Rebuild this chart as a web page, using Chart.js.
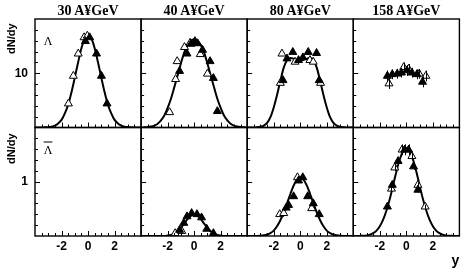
<!DOCTYPE html>
<html>
<head>
<meta charset="utf-8">
<script src="https://cdn.jsdelivr.net/npm/chart.js@4/dist/chart.umd.min.js"></script>
<style>
  body { margin:0; background:#fff; }
  #wrap { position:relative; width:465px; height:270px; }
  #wrap canvas { position:absolute; left:0; top:0; }
  .lbl { position:absolute; white-space:nowrap; color:#000; }
  .energy { font:bold 14px "Liberation Serif", serif; transform:translate(-50%,-50%); }
  .ytitle { font:bold 11px "Liberation Sans", Arial, sans-serif; transform-origin:0 0; transform:rotate(-90deg); }
  .part { font:12px "Liberation Serif", serif; transform:translate(-50%,-50%); }
</style>
</head>
<body>
<div id="wrap">
  <canvas id="spectra" width="465" height="270"></canvas>
</div>
<script>
// beam energies (columns)
const energies = ["30 A\u00a5GeV", "40 A\u00a5GeV", "80 A\u00a5GeV", "158 A\u00a5GeV"];
const xTicks = [-2, 0, 2];
const yTopTicks = [10];
const yBotTicks = [1];

// rapidity grid for the fit curves
const rapidity = [-4, -3.75, -3.5, -3.25, -3, -2.75, -2.5, -2.25, -2, -1.75, -1.5, -1.25, -1, -0.75, -0.5, -0.25, 0,
                  0.25, 0.5, 0.75, 1, 1.25, 1.5, 1.75, 2, 2.25, 2.5, 2.75, 3, 3.25, 3.5, 3.75, 4];

// Lambda fits
const fit30L  = [0, 0, 0.01, 0.03, 0.07, 0.16, 0.36, 0.75, 1.4, 2.6, 4.2, 6.5, 9.2, 12.0, 14.6, 16.4, 17.0,
                 16.4, 14.6, 12.0, 9.2, 6.5, 4.2, 2.6, 1.4, 0.75, 0.36, 0.16, 0.07, 0.03, 0.01, 0, 0];
const fit40L  = [0.01, 0.03, 0.08, 0.17, 0.35, 0.7, 1.3, 2.2, 3.6, 5.3, 7.4, 9.6, 11.8, 13.8, 15.2, 16.0, 16.2,
                 16.0, 15.2, 13.8, 11.8, 9.6, 7.4, 5.3, 3.6, 2.2, 1.3, 0.7, 0.35, 0.17, 0.08, 0.03, 0.01];
const fit80L  = [0, 0, 0.01, 0.04, 0.13, 0.35, 0.85, 1.9, 3.7, 6.0, 8.6, 11.0, 12.4, 12.8, 12.7, 12.5, 12.4,
                 12.5, 12.7, 12.8, 12.4, 11.0, 8.6, 6.0, 3.7, 1.9, 0.85, 0.35, 0.13, 0.04, 0.01, 0, 0];
// anti-Lambda fits
const fit40AL = [0, 0, 0, 0, 0, 0, 0, 0, 0.008, 0.02, 0.044, 0.086, 0.15, 0.23, 0.31, 0.37, 0.39,
                 0.37, 0.31, 0.23, 0.15, 0.086, 0.044, 0.02, 0.008, 0, 0, 0, 0, 0, 0, 0, 0];
const fit80AL = [0, 0, 0.001, 0.002, 0.005, 0.012, 0.027, 0.054, 0.10, 0.18, 0.29, 0.43, 0.60, 0.77, 0.93, 1.04, 1.08,
                 1.04, 0.93, 0.77, 0.60, 0.43, 0.29, 0.18, 0.10, 0.054, 0.027, 0.012, 0.005, 0.002, 0.001, 0, 0];
const fit158AL = [0, 0, 0.002, 0.005, 0.011, 0.025, 0.051, 0.098, 0.18, 0.30, 0.47, 0.68, 0.93, 1.19, 1.41, 1.56, 1.62,
                  1.56, 1.41, 1.19, 0.93, 0.68, 0.47, 0.30, 0.18, 0.098, 0.051, 0.025, 0.011, 0.005, 0.002, 0, 0];

// measured (filled) and reflected (open) points
const l30MeasY = [-0.2, 0.12, 0.64, 1.01, 1.43];
const l30Meas  = [15.9, 16.6, 13.6, 9.5, 4.4];
const l30ReflY = [-0.3, -0.05, -0.74, -1.11, -1.48];
const l30Refl  = [16.6, 16.9, 13.6, 9.5, 4.4];

const l40MeasY = [-1.1, -0.54, -0.24, 0.06, 0.26, 0.63, 1.2, 1.45, 1.75];
const l40Meas  = [10.4, 13.6, 15.4, 15.9, 15.5, 14.3, 12.2, 9.1, 3.0];
const l40ReflY = [-1.85, -1.4, -1.28, -0.73, -0.3, 0.46, 1.0];
const l40Refl  = [2.8, 8.9, 12.2, 14.8, 15.6, 13.5, 9.9];

const l80MeasY = [-1.3, -1.0, -0.56, -0.13, 0.2, 0.6, 1.23, 1.43];
const l80Meas  = [8.7, 12.7, 13.9, 12.4, 12.9, 13.9, 13.7, 8.7];
const l80ReflY = [-1.5, -1.38, -0.39, 0.73, 0.98, 1.53];
const l80Refl  = [8.2, 13.6, 12.1, 12.4, 12.1, 8.2];

const l158MeasY = [-1.43, -1.06, -0.69, -0.37, 0.05, 0.42, 0.8, 1.22];
const l158Meas  = [9.5, 9.8, 9.9, 10.1, 10.5, 10.1, 9.8, 8.4];
const l158MeasE = [1.0, 0.9, 0.9, 0.9, 1.0, 0.9, 0.9, 1.0];
const l158ReflY = [-1.31, -0.2, 0.17, 0.97, 1.47];
const l158Refl  = [8.1, 11.1, 10.8, 9.9, 9.5];
const l158ReflE = [1.0, 0.9, 0.9, 0.9, 1.0];

const al40MeasY = [-1.1, -0.78, -0.54, -0.19, 0.21, 0.56, 0.95, 1.45];
const al40Meas  = [0.11, 0.24, 0.36, 0.42, 0.40, 0.34, 0.13, 0.05];
const al40ReflY = [-1.43, -0.93];
const al40Refl  = [0.05, 0.09];

const al80MeasY = [-1.06, -0.88, -0.5, -0.13, 0.19, 0.56, 0.98, 1.43];
const al80Meas  = [0.52, 0.57, 0.73, 1.02, 1.08, 0.73, 0.60, 0.40];
const al80ReflY = [-1.55, -1.25, -0.21, 0.86];
const al80Refl  = [0.40, 0.42, 1.08, 0.51];

const al158MeasY = [-1.43, -1.06, -0.62, -0.12, 0.17, 0.54, 0.87];
const al158Meas  = [0.54, 0.94, 1.38, 1.59, 1.59, 1.28, 0.85];
const al158MeasE = [0.04, 0.05, 0.06, 0.10, 0.10, 0.06, 0.05];
const al158ReflY = [-1.12, -0.87, -0.32, 0.42, 0.87, 1.42];
const al158Refl  = [0.87, 1.26, 1.59, 1.47, 0.94, 0.54];
const al158ReflE = [0.05, 0.06, 0.10, 0.06, 0.05, 0.04];

function pts(xs, ys, es) {
    return xs.map(function(x, i){ return {x:x, y:ys[i], e: es ? es[i] : 0}; });
}

const panels = [
    {x:"x1", y:"yTop", fit:fit30L,  meas:pts(l30MeasY, l30Meas),  refl:pts(l30ReflY, l30Refl)},
    {x:"x2", y:"yTop", fit:fit40L,  meas:pts(l40MeasY, l40Meas),  refl:pts(l40ReflY, l40Refl)},
    {x:"x3", y:"yTop", fit:fit80L,  meas:pts(l80MeasY, l80Meas),  refl:pts(l80ReflY, l80Refl)},
    {x:"x4", y:"yTop", fit:null,    meas:pts(l158MeasY, l158Meas, l158MeasE), refl:pts(l158ReflY, l158Refl, l158ReflE)},
    {x:"x1", y:"yBot", fit:null,    meas:[], refl:[]},
    {x:"x2", y:"yBot", fit:fit40AL, meas:pts(al40MeasY, al40Meas), refl:pts(al40ReflY, al40Refl)},
    {x:"x3", y:"yBot", fit:fit80AL, meas:pts(al80MeasY, al80Meas), refl:pts(al80ReflY, al80Refl)},
    {x:"x4", y:"yBot", fit:fit158AL, meas:pts(al158MeasY, al158Meas, al158MeasE), refl:pts(al158ReflY, al158Refl, al158ReflE)}
];

let datasets = [];
panels.forEach(function(p){
    if (p.fit) {
        datasets.push({
            data: rapidity.map(function(r, i){ return {x:r, y:p.fit[i]}; }),
            xAxisID:p.x, yAxisID:p.y, showLine:true, pointRadius:0,
            borderColor:"#000", borderWidth:2, cubicInterpolationMode:"monotone", order:3
        });
    }
    datasets.push({
        data:p.refl, xAxisID:p.x, yAxisID:p.y, pointStyle:"triangle", pointRadius:4.6,
        backgroundColor:"#fff", borderColor:"#000", borderWidth:1, order:2
    });
    datasets.push({
        data:p.meas, xAxisID:p.x, yAxisID:p.y, pointStyle:"triangle", pointRadius:4.6,
        backgroundColor:"#000", borderColor:"#000", borderWidth:1, order:1
    });
});

const tickFont = {family:"Liberation Sans", weight:"bold", size:12};

function xScale(showTitle) {
    return {
        type:"linear", axis:"x", position:"bottom", stack:"cols", min:-4, max:4,
        grid:{display:false, drawTicks:false}, border:{display:false},
        afterBuildTicks:function(s){ s.ticks = xTicks.map(function(v){ return {value:v}; }); },
        afterFit:function(s){ s.height = 34; },
        ticks:{color:"#000", font:tickFont, padding:3, maxRotation:0, autoSkip:false},
        title:{display:showTitle, text:"y", align:"end", color:"#000",
               font:{family:"Liberation Sans", weight:"bold", size:14}, padding:{top:0, bottom:0}}
    };
}
function yScale(min, max, list, wt) {
    return {
        type:"linear", axis:"y", position:"left", stack:"rows", weight:wt, min:min, max:max,
        grid:{display:false, drawTicks:false}, border:{display:false},
        afterBuildTicks:function(s){ s.ticks = list.map(function(v){ return {value:v}; }); },
        afterFit:function(s){ s.width = 35; },
        ticks:{color:"#000", font:tickFont, padding:7}
    };
}

// frames, inward ticks and error bars
const frames = {
    id:"frames",
    afterDatasetsDraw:function(chart){
        const ctx = chart.ctx;
        ctx.save();
        ctx.strokeStyle = "#000";
        ctx.lineWidth = 1;
        chart.data.datasets.forEach(function(ds){
            const xs = chart.scales[ds.xAxisID], ys = chart.scales[ds.yAxisID];
            ds.data.forEach(function(d){
                if (!d.e) return;
                const px = Math.round(xs.getPixelForValue(d.x)) + 0.5;
                ctx.beginPath();
                ctx.moveTo(px, ys.getPixelForValue(d.y - d.e));
                ctx.lineTo(px, ys.getPixelForValue(d.y + d.e));
                ctx.stroke();
            });
        });
        ["x1", "x2", "x3", "x4"].forEach(function(xid){
            ["yTop", "yBot"].forEach(function(yid){
                const xs = chart.scales[xid], ys = chart.scales[yid];
                const l = xs.left, r = xs.right, t = ys.top, b = ys.bottom;
                ctx.lineWidth = 1;
                ctx.beginPath();
                for (let v = -3.5; v < 4; v += 0.5) {
                    const px = Math.round(xs.getPixelForValue(v)) + 0.5;
                    const len = (v % 2 === 0) ? 5 : 3;
                    ctx.moveTo(px, b);
                    ctx.lineTo(px, b - len);
                }
                const step = (ys.max - ys.min) / 10;
                for (let k = 1; k < 10; k++) {
                    const py = Math.round(ys.getPixelForValue(ys.min + k * step)) + 0.5;
                    const len = (k === 5) ? 5 : 3;
                    ctx.moveTo(l, py);
                    ctx.lineTo(l + len, py);
                }
                ctx.stroke();
                ctx.lineWidth = 1.4;
                ctx.strokeRect(l, t, r - l, b - t);
            });
        });
        ctx.restore();
    }
};

const chart = new Chart(document.getElementById("spectra"), {
    type:"scatter",
    data:{datasets:datasets},
    options:{
        responsive:false,
        animation:false,
        layout:{padding:{left:0, top:19, right:1, bottom:0}},
        plugins:{legend:{display:false}, tooltip:{enabled:false}},
        scales:{
            yTop:yScale(0, 20, yTopTicks, 2),
            yBot:yScale(0, 2, yBotTicks, 1),
            x1:xScale(false),
            x2:xScale(false),
            x3:xScale(false),
            x4:xScale(true)
        }
    },
    plugins:[frames]
});

// text labels placed from the chart's own scales
const wrap = document.getElementById("wrap");
function addLabel(cls, html, x, y) {
    const d = document.createElement("div");
    d.className = "lbl " + cls;
    d.innerHTML = html;
    d.style.left = x + "px";
    d.style.top = y + "px";
    wrap.appendChild(d);
    return d;
}
["x1", "x2", "x3", "x4"].forEach(function(id, i){
    const s = chart.scales[id];
    addLabel("energy", energies[i], (s.left + s.right) / 2, 11);
});
const rowTop = chart.scales.yTop, rowBot = chart.scales.yBot;
addLabel("ytitle", "dN/dy", 5, rowTop.top + 35);
addLabel("ytitle", "dN/dy", 5, rowBot.top + 36);
addLabel("part", "\u039b", 48, rowTop.top + 22);
addLabel("part", "<span style=\"text-decoration:overline\">\u039b</span>", 48, rowBot.top + 22);
</script>
</body>
</html>
